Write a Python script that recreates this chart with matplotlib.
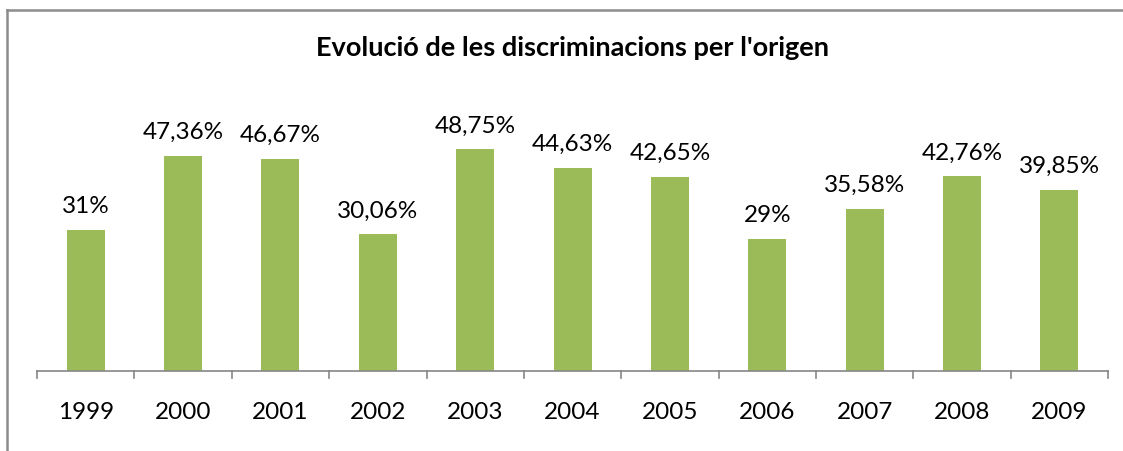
import matplotlib.pyplot as plt
from matplotlib.lines import Line2D

years = ['1999', '2000', '2001', '2002', '2003', '2004', '2005', '2006', '2007', '2008', '2009']
values = [31, 47.36, 46.67, 30.06, 48.75, 44.63, 42.65, 29, 35.58, 42.76, 39.85]
labels = ['31%', '47,36%', '46,67%', '30,06%', '48,75%', '44,63%', '42,65%', '29%', '35,58%', '42,76%', '39,85%']

plt.rcParams['font.family'] = ['Lato', 'DejaVu Sans']

fig = plt.figure(figsize=(11.23, 4.51), dpi=100)
ax = fig.add_axes([0.033, 0.1774, 0.9537, 0.6053])

x = range(len(years))
bars = ax.bar(x, values, width=0.39, color='#9bbb59')
for b, lab in zip(bars, labels):
    ax.text(b.get_x() + b.get_width() / 2, b.get_height() + 3.7, lab,
            ha='center', va='baseline', fontsize=17.5)

ax.set_xlim(-0.5, len(years) - 0.5)
ax.set_ylim(0, 60)
ax.set_xticks(x)
ax.set_xticklabels(years, fontsize=17.5)
ax.tick_params(axis='x', length=0, pad=22)
# boundary ticks like Excel
for i in range(len(years) + 1):
    ax.plot([i - 0.5, i - 0.5], [0, -1.6], color='#868686', lw=1.2, clip_on=False)
ax.set_yticks([])
for s in ['top', 'right', 'left']:
    ax.spines[s].set_visible(False)
ax.spines['bottom'].set_color('#868686')
ax.spines['bottom'].set_linewidth(1.2)

fig.text(0.51, 0.893, "Evolució de les discriminacions per l'origen",
         ha='center', va='center', fontsize=19.5, fontweight='bold')

# chart border (top and left edges visible)
fig.add_artist(Line2D([7 / 1123, 1], [1 - 10 / 451, 1 - 10 / 451], color='#8c8c8c', lw=1.8))
fig.add_artist(Line2D([7 / 1123, 7 / 1123], [0, 1 - 10 / 451], color='#8c8c8c', lw=1.8))

fig.savefig('out.png', dpi=100)
